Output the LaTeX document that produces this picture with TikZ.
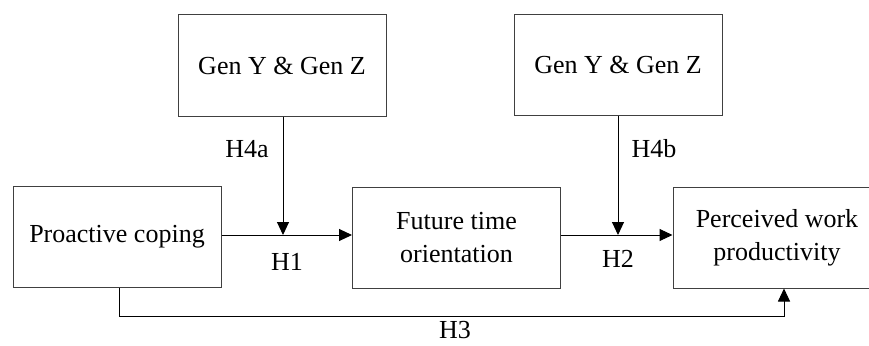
\documentclass[tikz,border=0pt]{standalone}
\usepackage{fontspec}
\setmainfont{Liberation Serif}
\usetikzlibrary{arrows.meta, positioning}
\tikzstyle{factor} = [rectangle, minimum width=208pt, minimum height=101pt, text centered, align=center, draw=black!75, line width=1pt, font=\fontsize{26}{33}\selectfont]
\tikzstyle{arrow} = [line width=1pt, -{Triangle[length=13pt,width=12pt]}]
\tikzstyle{hyp} = [font=\fontsize{26}{30}\selectfont]

\begin{document}
\begin{tikzpicture}[x=1pt, y=-1pt]
	\useasboundingbox (0,0) rectangle (869,345);

	\node (gen1) [factor] at (282,65.5) {Gen Y \& Gen Z};
	\node (gen2) [factor] at (618,65) {Gen Y \& Gen Z};
	\node (pc) [factor] at (117,236.5) {Proactive coping};
	\node (fto) [factor] at (456.5,237.5) {Future time\\orientation};
	\node (pwp) [factor] at (777,237.5) {Perceived work\\productivity};

	\coordinate (m1) at (283,235);
	\coordinate (m2) at (618,235);
	\coordinate (c1) at (119,316);
	\coordinate (c2) at (784,316);

	\draw [arrow] (pc.east |- m1) -- (fto.west |- m1);
	\draw [arrow] (fto.east |- m2) -- (pwp.west |- m2);
	\draw [arrow] (gen1.south -| m1) -- (m1);
	\draw [arrow] (gen2.south -| m2) -- (m2);
	\draw [arrow] (pc.south -| c1) -- (c1) -- (c2) -- (pwp.south -| c2);

	\node (h1) [hyp] at (287,262) {H1};
	\node (h2) [hyp] at (618,259) {H2};
	\node (h3) [hyp] at (455,330) {H3};
	\node (h4a) [hyp] at (247,149) {H4a};
	\node (h4b) [hyp] at (654,149) {H4b};
\end{tikzpicture}
\end{document}
